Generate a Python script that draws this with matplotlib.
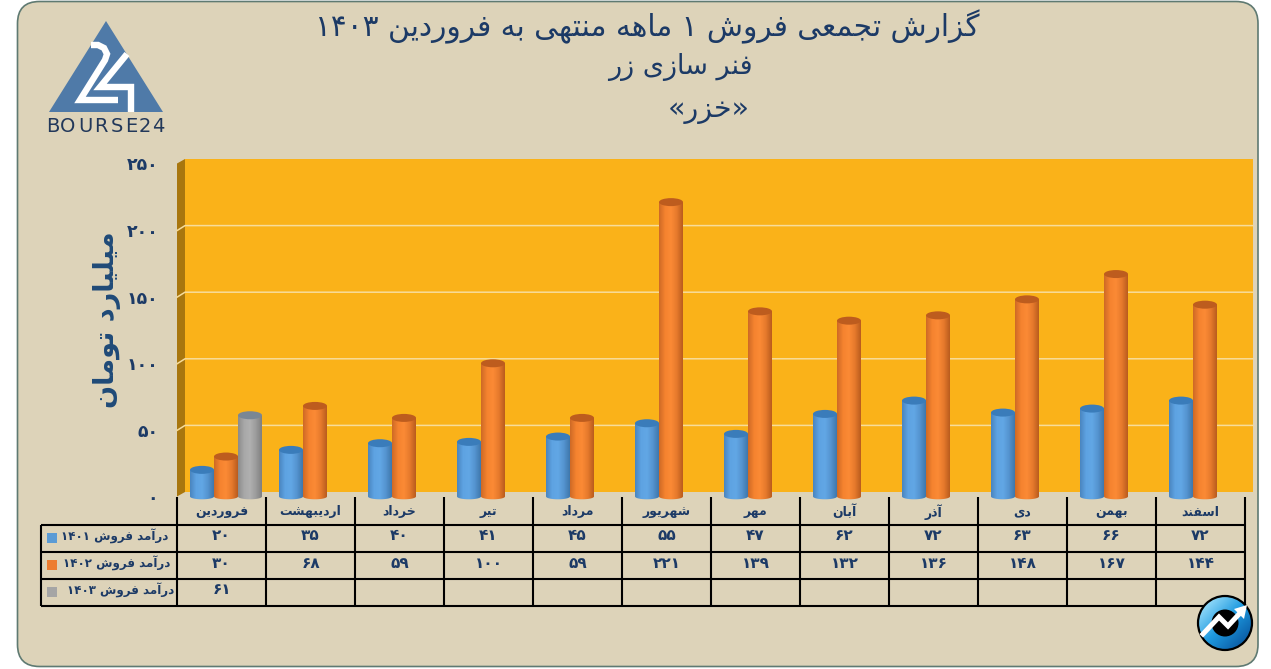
import matplotlib
matplotlib.use("Agg")
import matplotlib.pyplot as plt
import numpy as np
from matplotlib.colors import LinearSegmentedColormap
from matplotlib.patches import Circle, Ellipse, FancyBboxPatch, PathPatch, Polygon, Rectangle
from matplotlib.path import Path

# data
months = ["فروردین", "اردیبهشت", "خرداد", "تیر", "مرداد", "شهریور",
          "مهر", "آبان", "آذر", "دی", "بهمن", "اسفند"]
sales_1401 = [20, 35, 40, 41, 45, 55, 47, 62, 72, 63, 66, 72]
sales_1402 = [30, 68, 59, 100, 59, 221, 139, 132, 136, 148, 167, 144]
sales_1403 = [61]
series_names = ["درآمد فروش ۱۴۰۱", "درآمد فروش ۱۴۰۲", "درآمد فروش ۱۴۰۳"]
y_ticks = [0, 50, 100, 150, 200, 250]
title_lines = ["گزارش تجمعی فروش ۱ ماهه منتهی به فروردین ۱۴۰۳", "فنر سازی زر", "«خزر»"]
y_label = "میلیارد تومان"

NAVY = "#1c3a66"
BG = "#ddd3b9"

# matplotlib ne fait pas le shaping arabe : formes de presentation a la main
FORMS = {
    "ا": (0xFE8D, 0xFE8E), "آ": (0xFE81, 0xFE82), "د": (0xFEA9, 0xFEAA),
    "ذ": (0xFEAB, 0xFEAC), "ر": (0xFEAD, 0xFEAE), "ز": (0xFEAF, 0xFEB0),
    "و": (0xFEED, 0xFEEE),
    "ب": (0xFE8F, 0xFE90, 0xFE91, 0xFE92), "ت": (0xFE95, 0xFE96, 0xFE97, 0xFE98),
    "ج": (0xFE9D, 0xFE9E, 0xFE9F, 0xFEA0), "خ": (0xFEA5, 0xFEA6, 0xFEA7, 0xFEA8),
    "س": (0xFEB1, 0xFEB2, 0xFEB3, 0xFEB4), "ش": (0xFEB5, 0xFEB6, 0xFEB7, 0xFEB8),
    "ع": (0xFEC9, 0xFECA, 0xFECB, 0xFECC), "ف": (0xFED1, 0xFED2, 0xFED3, 0xFED4),
    "گ": (0xFB92, 0xFB93, 0xFB94, 0xFB95), "ل": (0xFEDD, 0xFEDE, 0xFEDF, 0xFEE0),
    "م": (0xFEE1, 0xFEE2, 0xFEE3, 0xFEE4), "ن": (0xFEE5, 0xFEE6, 0xFEE7, 0xFEE8),
    "ه": (0xFEE9, 0xFEEA, 0xFEEB, 0xFEEC), "ی": (0xFBFC, 0xFBFD, 0xFBFE, 0xFBFF),
}


def fa(text):
    out = []
    for i, c in enumerate(text):
        if c not in FORMS:
            out.append({"«": "»", "»": "«"}.get(c, c))
            continue
        f = FORMS[c]
        before = i > 0 and text[i - 1] in FORMS and len(FORMS[text[i - 1]]) == 4
        after = i + 1 < len(text) and text[i + 1] in FORMS and len(f) == 4
        if before and after:
            code = f[3]
        elif before:
            code = f[1]
        elif after:
            code = f[2]
        else:
            code = f[0]
        out.append(chr(code))
    # ordre visuel, les chiffres restent de gauche a droite
    out = out[::-1]
    res, run = [], []
    for c in out:
        if "۰" <= c <= "۹":
            run.append(c)
        else:
            res += run[::-1]
            run = []
            res.append(c)
    res += run[::-1]
    return "".join(res)


def fa_num(v):
    return fa("".join("۰۱۲۳۴۵۶۷۸۹"[int(d)] for d in str(v)))


W, H = 1271, 669
fig = plt.figure(figsize=(W / 100, H / 100), dpi=100, facecolor="white")

# fond en coordonnees pixels
bg = fig.add_axes([0, 0, 1, 1], zorder=1)
bg.axis("off")
bg.add_patch(FancyBboxPatch((17.5, 1.5), 1240.5, 665, boxstyle="round,pad=0,rounding_size=22",
                            fc=BG, ec="#5f7a72", lw=1.2))

# murs du graphique
y0_back, y250_back = 492.0, 159.0
y0_front, y250_front = 496.5, 163.5
bg.add_patch(Rectangle((185, y250_back), 1068, y0_back - y250_back, fc="#fab219", ec="none"))
bg.add_patch(Polygon([(177, y250_front), (185, y250_back), (185, y0_back), (177, y0_front)],
                     fc="#a8760e", ec="none"))
for t in y_ticks[1:-1]:
    yb = y0_back - t * (y0_back - y250_back) / 250
    bg.plot([177, 185, 1253], [yb + 5, yb, yb], color="#f7dc9a", lw=1.1)

# tableau
col_x = 177 + 89 * np.arange(13)
row_y = [525, 552, 579, 606]
for x in col_x:
    bg.plot([x, x], [497, 606], color="black", lw=1.5, solid_capstyle="butt")
bg.plot([41, 41], [525, 606], color="black", lw=1.5, solid_capstyle="butt")
for y in row_y:
    bg.plot([41, 1245], [y, y], color="black", lw=1.5, solid_capstyle="butt")

for i, m in enumerate(months):
    bg.text(col_x[i] + 44.5, 512, fa(m), ha="center", va="center", fontsize=9, color=NAVY,
            fontweight="bold")
series = [sales_1401, sales_1402, sales_1403]
colors = ["#5b9bd5", "#ed7d31", "#a5a5a5"]
label_right = [168, 170, 174]
for r, vals in enumerate(series):
    yc = row_y[r] + 12
    bg.add_patch(Rectangle((47, yc - 4), 10, 10, fc=colors[r], ec="none"))
    bg.text(label_right[r], yc - 1, fa(series_names[r]), ha="right", va="center", fontsize=8.6,
            color=NAVY, fontweight="bold")
    for i, v in enumerate(vals):
        bg.text(col_x[i] + 44.5, yc - 1, fa_num(v), ha="center", va="center", fontsize=11,
                color=NAVY, fontweight="bold")

# titre
title_pos = [(647, 27, 21.3), (680, 67, 19.5), (709, 110, 20.5)]
for line, (x, y, fs) in zip(title_lines, title_pos):
    bg.text(x, y, fa(line), ha="center", va="center", fontsize=fs, color=NAVY)

bg.text(107, 320, fa(y_label), rotation=90, ha="center", va="center", fontsize=19.5,
        color="#1f4a78", fontweight="bold")

# logo bourse24
bg.add_patch(Polygon([(49, 112), (106, 21), (163, 112)], fc="#4f7aa8", ec="none"))
bg.plot([91, 98, 104, 107, 105, 80, 118], [45, 45, 48, 54, 60, 100, 100], color="white", lw=4.6,
        solid_joinstyle="miter", solid_capstyle="butt")
bg.plot([127, 100, 131, 131], [54, 87, 87, 112], color="white", lw=4.6,
        solid_joinstyle="miter", solid_capstyle="butt")
for c, x in zip("BOURSE24", [53, 68, 85, 101, 117, 131, 145, 158]):
    bg.text(x, 127, c, ha="center", va="center", fontsize=14, color="#22385a")

# logo rond
cmap_logo = LinearSegmentedColormap.from_list("logo", ["#8ed8f8", "#1e9ae0", "#0c5fa8"])
gx, gy = np.meshgrid(np.linspace(-1, 1, 80), np.linspace(-1, 1, 80))
im = bg.imshow(np.clip((gx + gy + 1.4) / 2.8, 0, 1), extent=(1198, 1252, 650, 596),
               cmap=cmap_logo, aspect="auto", zorder=5)
im.set_clip_path(Circle((1225, 623), 27, transform=bg.transData))
bg.add_patch(Circle((1225, 623), 27, fc="none", ec="black", lw=1.6, zorder=6))
bg.add_patch(Circle((1225, 623), 13.5, fc="black", ec="none", zorder=6))
bg.plot([1203, 1219, 1228, 1241], [634, 617, 626, 612], color="white", lw=3.6, zorder=7,
        solid_joinstyle="miter")
bg.add_patch(Polygon([(1247, 605), (1244, 619), (1234, 609)], fc="white", ec="none", zorder=7))

bg.set_xlim(0, W)
bg.set_ylim(H, 0)

# graphique : une colonne du tableau = une unite en x
ax = fig.add_axes([177 / W, (H - y0_front) / H, 1068 / W, (y0_front - y250_front) / H], zorder=2)
ax.patch.set_alpha(0)
for s in ax.spines.values():
    s.set_visible(False)

shades = {
    "#5b9bd5": ["#4a86c0", "#5ea3e2", "#62a7e5", "#5594d0", "#3f78ad"],
    "#ed7d31": ["#cf6a26", "#f5832f", "#fb8a35", "#e67a2c", "#bb5c1e"],
    "#a5a5a5": ["#8c8c8c", "#a8a8a8", "#b0b0b0", "#9c9c9c", "#808080"],
}
tops = {"#5b9bd5": "#3a7cba", "#ed7d31": "#bd5c1e", "#a5a5a5": "#7a8794"}

bar_w = 24 / 89
cap_h = 4 / 1.332  # demi-hauteur de l'ellipse en unites de y
bar_left = 13 / 89
for k, vals in enumerate(series):
    col = colors[k]
    cm = LinearSegmentedColormap.from_list("c%d" % k, shades[col])
    xs = np.arange(len(vals)) + bar_left + bar_w * (k + 0.5)
    bars = ax.bar(xs, vals, width=bar_w, color="none", zorder=3 + k, clip_on=False, lw=0)
    for b, x, v in zip(bars, xs, vals):
        # corps du cylindre avec fond arrondi
        xl, xr = x - bar_w / 2, x + bar_w / 2
        tt = np.linspace(0, np.pi, 20)
        vx = np.r_[xl, xr, x + bar_w / 2 * np.cos(tt), xl]
        vy = np.r_[v, v, -cap_h * 0.7 * np.sin(tt), v]
        clip = PathPatch(Path(np.c_[vx, vy]), transform=ax.transData, fc="none", ec="none")
        ax.add_patch(clip)
        clip.set_clip_on(False)
        img = ax.imshow(np.linspace(0, 1, 40).reshape(1, -1), extent=(xl, xr, -cap_h, v),
                        cmap=cm, aspect="auto", zorder=3 + k)
        img.set_clip_box(fig.bbox)
        img.set_clip_path(clip)
        ax.add_patch(Ellipse((x, v), bar_w, cap_h * 2, fc=tops[col], ec="none",
                             zorder=3 + k, clip_on=False))

ax.set_xlim(0, 12)
ax.set_ylim(0, 250)
ax.set_xticks([])
ax.set_yticks(y_ticks)
ax.set_yticklabels([fa_num(t) for t in y_ticks], fontsize=12.5, color=NAVY, fontweight="bold")
ax.tick_params(axis="y", length=0, pad=13.5)

fig.savefig("out.png", dpi=100)
